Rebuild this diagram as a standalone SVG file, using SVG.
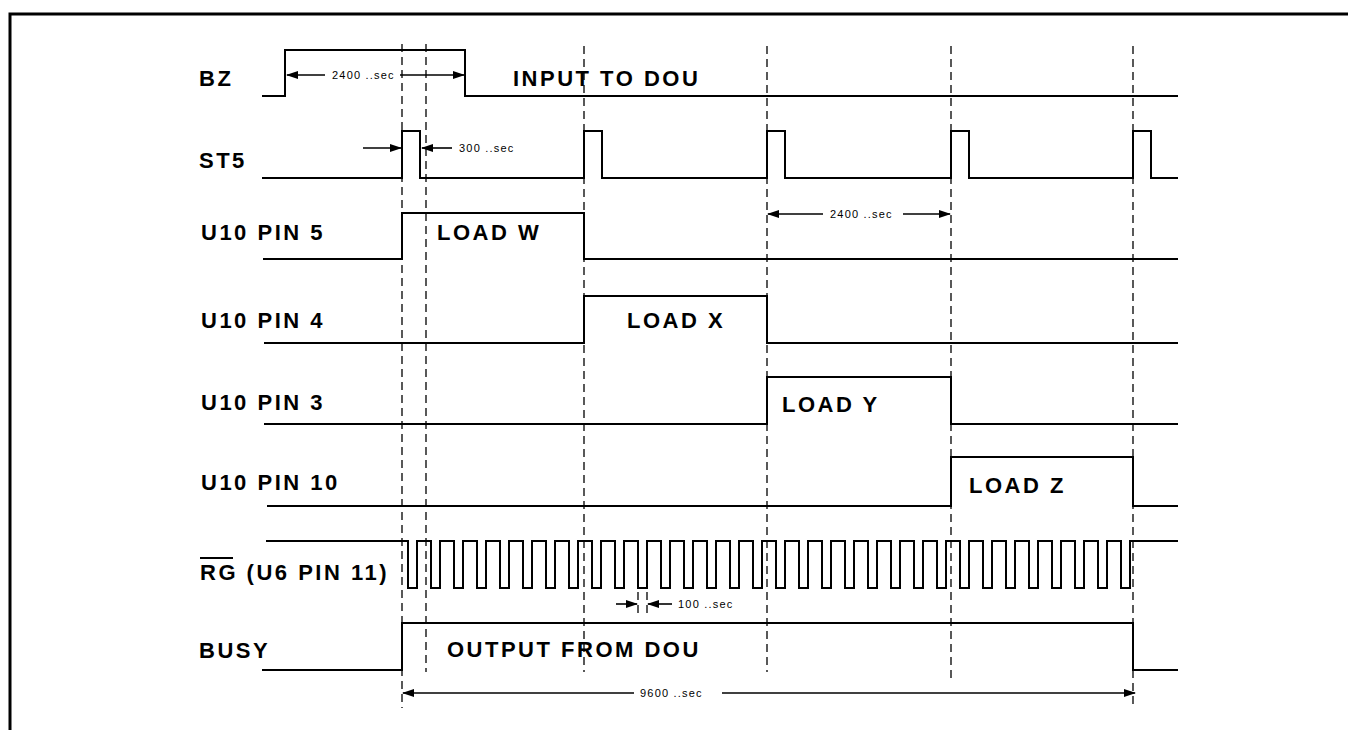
<svg xmlns="http://www.w3.org/2000/svg" width="1348" height="730" viewBox="0 0 1348 730">
<style>
.bg{fill:#ffffff}
.border{fill:none;stroke:#000;stroke-width:3}
.wave{fill:none;stroke:#000;stroke-width:2;stroke-linejoin:miter}
.dash{fill:none;stroke:#000;stroke-width:1.3;stroke-dasharray:8 5}
.dim{fill:none;stroke:#000;stroke-width:1.6}
.lbl{font-family:"Liberation Sans",Arial,sans-serif;font-weight:bold;font-size:22px;letter-spacing:2.5px;fill:#000}
.sm{font-family:"Liberation Sans",Arial,sans-serif;font-size:11px;letter-spacing:1.2px;fill:#000}
</style>
<defs>
<marker id="ah" markerWidth="12" markerHeight="8" refX="11" refY="4" orient="auto-start-reverse" markerUnits="userSpaceOnUse">
<path d="M0,0 L12,4 L0,8 z" fill="#000"/>
</marker>
</defs>
<rect class="bg" x="0" y="0" width="1348" height="730"/>
<path class="border" d="M10,730 V14 H1348"/>

<g id="connectors">
<line class="dash" x1="402" y1="44" x2="402" y2="708"/>
<line class="dash" x1="426" y1="44" x2="426" y2="672"/>
<line class="dash" x1="584" y1="46" x2="584" y2="672"/>
<line class="dash" x1="767" y1="46" x2="767" y2="672"/>
<line class="dash" x1="951" y1="46" x2="951" y2="680"/>
<line class="dash" x1="1133" y1="46" x2="1133" y2="708"/>
<line class="dash" x1="638" y1="592" x2="638" y2="614" stroke-dasharray="5 3"/>
<line class="dash" x1="647" y1="592" x2="647" y2="614" stroke-dasharray="5 3"/>
<line class="dim" x1="325" y1="75" x2="287" y2="75" marker-end="url(#ah)"/>
<line class="dim" x1="400" y1="75" x2="464" y2="75" marker-end="url(#ah)"/>
<line class="dim" x1="363" y1="148" x2="401" y2="148" marker-end="url(#ah)"/>
<line class="dim" x1="452" y1="148" x2="422" y2="148" marker-end="url(#ah)"/>
<line class="dim" x1="823" y1="214" x2="768" y2="214" marker-end="url(#ah)"/>
<line class="dim" x1="903" y1="214" x2="950" y2="214" marker-end="url(#ah)"/>
<line class="dim" x1="616" y1="604" x2="637" y2="604" marker-end="url(#ah)"/>
<line class="dim" x1="672" y1="604" x2="648" y2="604" marker-end="url(#ah)"/>
<line class="dim" x1="634" y1="693" x2="403" y2="693" marker-end="url(#ah)"/>
<line class="dim" x1="722" y1="693" x2="1135" y2="693" marker-end="url(#ah)"/>
<text class="sm" x="332" y="79">2400 ..sec</text>
<text class="sm" x="459" y="152">300 ..sec</text>
<text class="sm" x="830" y="218">2400 ..sec</text>
<text class="sm" x="678" y="608">100 ..sec</text>
<text class="sm" x="640" y="697">9600 ..sec</text>
</g>

<g id="bz">
<text class="lbl" x="199" y="86">BZ</text>
<path class="wave" d="M262,96 H285 V50 H465 V96 H1178"/>
<text class="lbl" x="513" y="86">INPUT TO DOU</text>
</g>

<g id="st5">
<text class="lbl" x="199" y="168">ST5</text>
<path class="wave" d="M262,178 H402 V131 H420 V178 H584 V131 H602 V178 H767 V131 H785 V178 H951 V131 H969 V178 H1133 V131 H1151 V178 H1178"/>
</g>

<g id="u10pin5">
<text class="lbl" x="201" y="240">U10 PIN 5</text>
<path class="wave" d="M263,259 H402 V213 H584 V259 H1178"/>
<text class="lbl" x="437" y="240">LOAD W</text>
</g>

<g id="u10pin4">
<text class="lbl" x="201" y="328">U10 PIN 4</text>
<path class="wave" d="M264,343 H584 V296 H767 V343 H1178"/>
<text class="lbl" x="627" y="328">LOAD X</text>
</g>

<g id="u10pin3">
<text class="lbl" x="201" y="410">U10 PIN 3</text>
<path class="wave" d="M264,424 H767 V377 H951 V424 H1178"/>
<text class="lbl" x="782" y="412">LOAD Y</text>
</g>

<g id="u10pin10">
<text class="lbl" x="201" y="490">U10 PIN 10</text>
<path class="wave" d="M267,506 H951 V457 H1133 V506 H1178"/>
<text class="lbl" x="969" y="493">LOAD Z</text>
</g>

<g id="rg">
<text class="lbl" x="200" y="580">RG (U6 PIN 11)</text>
<line x1="200" y1="558" x2="233" y2="558" stroke="#000" stroke-width="2"/>
<path class="wave" d="M266,541 H408 V588 H417 V541 H431 V588 H440 V541 H454 V588 H463 V541 H477 V588 H486 V541 H500 V588 H509 V541 H523 V588 H532 V541 H546 V588 H555 V541 H569 V588 H578 V541 H592 V588 H601 V541 H615 V588 H624 V541 H638 V588 H647 V541 H661 V588 H670 V541 H684 V588 H693 V541 H707 V588 H716 V541 H730 V588 H739 V541 H753 V588 H762 V541 H776 V588 H785 V541 H799 V588 H808 V541 H822 V588 H831 V541 H845 V588 H854 V541 H868 V588 H877 V541 H891 V588 H900 V541 H914 V588 H923 V541 H937 V588 H946 V541 H960 V588 H969 V541 H983 V588 H992 V541 H1006 V588 H1015 V541 H1029 V588 H1038 V541 H1052 V588 H1061 V541 H1075 V588 H1084 V541 H1098 V588 H1107 V541 H1121 V588 H1130 V541 H1178"/>
</g>

<g id="busy">
<text class="lbl" x="199" y="658">BUSY</text>
<path class="wave" d="M262,670 H402 V623 H1133 V670 H1178"/>
<text class="lbl" x="447" y="657">OUTPUT FROM DOU</text>
</g>
</svg>
